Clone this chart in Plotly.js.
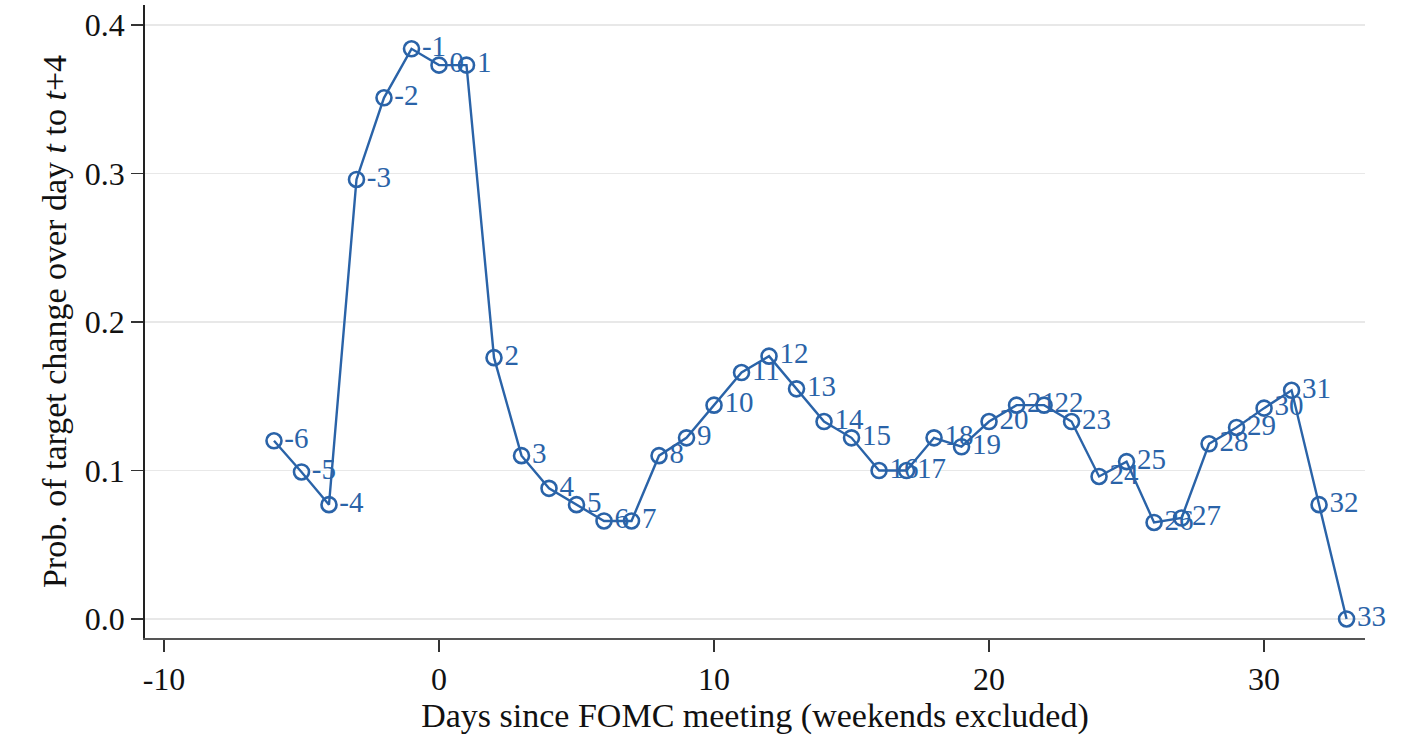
<!DOCTYPE html>
<html>
<head>
<meta charset="utf-8">
<script src="https://cdn.plot.ly/plotly-3.0.1.min.js"></script>
<style>html,body{margin:0;padding:0;background:#fff;}#chart{width:1415px;height:740px;}</style>
</head>
<body>
<div id="chart"></div>
<script>
const days = [-6,-5,-4,-3,-2,-1,0,1,2,3,4,5,6,7,8,9,10,11,12,13,14,15,16,17,18,19,20,21,22,23,24,25,26,27,28,29,30,31,32,33];
const prob = [0.120,0.099,0.077,0.296,0.351,0.384,0.373,0.373,0.176,0.110,0.088,0.077,0.066,0.066,0.110,0.122,0.144,0.166,0.177,0.155,0.133,0.122,0.100,0.100,0.122,0.116,0.133,0.144,0.144,0.133,0.096,0.106,0.065,0.068,0.118,0.129,0.142,0.154,0.077,0.000];
const pointLabels = days.map(String);
const xTicks = [-10,0,10,20,30];
const yTicks = [0,0.1,0.2,0.3,0.4];
const yTickText = ['0.0','0.1','0.2','0.3','0.4'];

const col = '#2a63a8';
const font = 'Liberation Serif, Times New Roman, serif';

const trace = {
  x: days, y: prob, text: pointLabels,
  type: 'scatter', mode: 'lines+markers+text',
  textposition: 'middle right',
  textfont: {family: font, size: 29, color: col},
  line: {color: col, width: 2.4},
  marker: {symbol: 'circle-open', size: 15, color: col, line: {width: 2.6, color: col}},
  cliponaxis: false,
  hoverinfo: 'x+y'
};

const layout = {
  width: 1415, height: 740,
  margin: {l: 145, r: 50, t: 5, b: 102},
  paper_bgcolor: '#fff', plot_bgcolor: '#fff',
  showlegend: false,
  font: {family: font, color: '#111'},
  xaxis: {
    range: [-10.69, 33.67],
    tickvals: xTicks, ticktext: xTicks.map(String),
    ticks: 'outside', ticklen: 12, tickwidth: 1.4, tickcolor: '#333',
    showgrid: false, zeroline: false,
    showline: true, linecolor: '#555', linewidth: 1.8,
    tickfont: {family: font, size: 32, color: '#111'},
    title: {text: 'Days since FOMC meeting (weekends excluded)', font: {family: font, size: 34, color: '#111'}, standoff: 5}
  },
  yaxis: {
    range: [-0.0128, 0.4135],
    tickvals: yTicks, ticktext: yTickText,
    ticks: 'outside', ticklen: 12, tickwidth: 1.4, tickcolor: '#333',
    showgrid: true, gridcolor: '#e8e8e8', gridwidth: 1.2,
    zeroline: false,
    showline: true, linecolor: '#222', linewidth: 1.8,
    tickfont: {family: font, size: 32, color: '#111'},
    title: {text: 'Prob. of target change over day <i>t</i> to <i>t</i>+4', font: {family: font, size: 34, color: '#111'}, standoff: 8}
  }
};

Plotly.newPlot('chart', [trace], layout, {displayModeBar: false, staticPlot: true});
</script>
</body>
</html>
